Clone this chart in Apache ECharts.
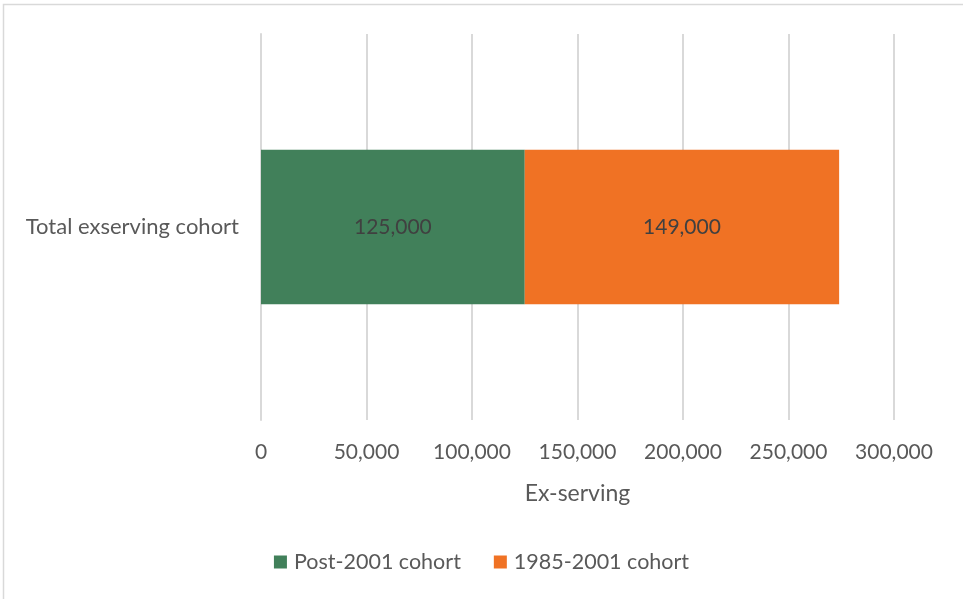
<!DOCTYPE html>
<html><head><meta charset="utf-8">
<script src="https://cdn.jsdelivr.net/npm/echarts@6/dist/echarts.min.js"></script>
<style>html,body{margin:0;padding:0;background:#fff}#c{width:963px;height:599px}</style>
</head><body><div id="c"></div>
<script>
const categories = ['Total exserving cohort'];
const seriesNames = ['Post-2001 cohort', '1985-2001 cohort'];
const post2001 = [125000];
const cohort1985 = [149000];
const colors = ['#41805a', '#f07224'];
const font = 'Lato';
const textColor = '#595959';
const chart = echarts.init(document.getElementById('c'));
const fmt = v => v.toLocaleString('en-US');
chart.setOption({
  animation: false,
  textStyle: {fontFamily: font},
  graphic: [{type: 'polyline', shape: {points: [[3.5, 599], [3.5, 4.5], [963, 4.5]]}, style: {stroke: '#d9d9d9', lineWidth: 1.5, fill: null}}],
  grid: {left: 261, right: 69, top: 34, bottom: 179, containLabel: false},
  xAxis: {
    type: 'value', min: 0, max: 300000, interval: 50000,
    name: 'Ex-serving', nameLocation: 'middle', nameGap: 62,
    nameTextStyle: {color: textColor, fontSize: 23, fontFamily: font},
    axisLabel: {color: textColor, fontSize: 21, margin: 22, formatter: fmt, fontFamily: font},
    axisLine: {show: false}, axisTick: {show: false},
    splitLine: {lineStyle: {color: '#d9d9d9', width: 2}}
  },
  yAxis: {
    type: 'category', data: categories,
    axisLine: {show: true, lineStyle: {color: '#d9d9d9', width: 2}}, axisTick: {show: false},
    axisLabel: {color: textColor, fontSize: 22, margin: 22, fontFamily: font}
  },
  legend: {
    bottom: 21, left: 'center', itemWidth: 13, itemHeight: 13, itemGap: 33,
    icon: 'rect', textStyle: {color: textColor, fontSize: 21.5, fontFamily: font, padding: [0, 0, 0, 2]},
    data: seriesNames
  },
  series: [
    {name: seriesNames[0], type: 'bar', stack: 't', data: post2001, barWidth: '40%',
     itemStyle: {color: colors[0]},
     label: {show: true, position: 'inside', color: '#404040', fontSize: 21, fontFamily: font, formatter: p => fmt(p.value)}},
    {name: seriesNames[1], type: 'bar', stack: 't', data: cohort1985, barWidth: '40%',
     itemStyle: {color: colors[1]},
     label: {show: true, position: 'inside', color: '#404040', fontSize: 21, fontFamily: font, formatter: p => fmt(p.value)}}
  ]
});
</script></body></html>
